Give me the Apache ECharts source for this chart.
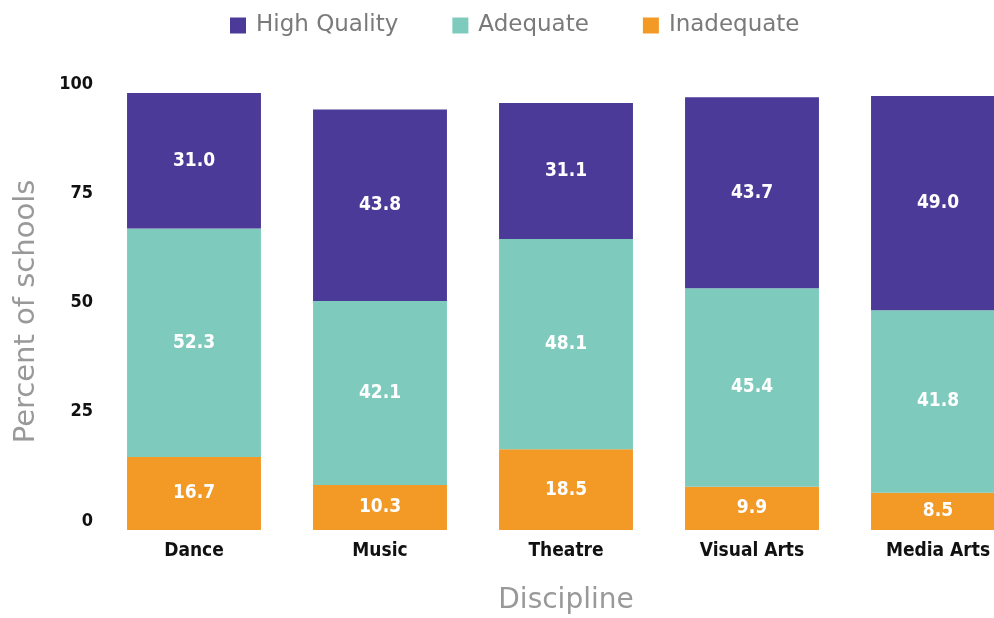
<!DOCTYPE html>
<html>
<head>
<meta charset="utf-8">
<script src="https://cdn.jsdelivr.net/npm/echarts@6/dist/echarts.min.js"></script>
<style>
html, body { margin: 0; padding: 0; background: #fff; overflow: hidden; }
#chart { width: 1040px; height: 618px; }
</style>
</head>
<body>
<div id="chart"></div>
<script>
var disciplines = ['Dance', 'Music', 'Theatre', 'Visual Arts', 'Media Arts'];
var inadequate = [16.7, 10.3, 18.5, 9.9, 8.5];
var adequate = [52.3, 42.1, 48.1, 45.4, 41.8];
var highQuality = [31.0, 43.8, 31.1, 43.7, 49.0];
var yTicks = [0, 25, 50, 75, 100];

// the reference uses a narrow bold face; ask the canvas for a condensed stretch
var narrowFamily = '"DejaVu Sans"';
var narrowWeight = 'condensed bold';
var plainFamily = '"DejaVu Sans", sans-serif';

function barSeries(name, values, color) {
    return {
        name: name,
        type: 'bar',
        stack: 'total',
        barWidth: '72%',
        data: values,
        itemStyle: { color: color },
        label: {
            show: true,
            position: 'inside',
            color: '#fff',
            fontFamily: narrowFamily,
            fontWeight: narrowWeight,
            fontSize: 19,
            formatter: function (p) { return p.value.toFixed(1); }
        }
    };
}

var chart = echarts.init(document.getElementById('chart'));
chart.setOption({
    animation: false,
    legend: {
        top: 9,
        left: 225,
        itemWidth: 16,
        itemHeight: 16,
        itemGap: 54,
        icon: 'rect',
        data: ['High Quality', 'Adequate', 'Inadequate'],
        textStyle: { color: '#7a7a7a', fontSize: 23, fontFamily: plainFamily, padding: [0, 0, 0, 5] }
    },
    grid: { left: 101, right: 9, top: 93, bottom: 88, outerBoundsMode: 'none', containLabel: false },
    xAxis: {
        type: 'category',
        data: disciplines,
        name: 'Discipline',
        nameLocation: 'middle',
        nameGap: 57,
        nameTextStyle: { color: '#999', fontSize: 28, fontFamily: plainFamily },
        axisLine: { show: false },
        axisTick: { show: false },
        axisLabel: {
            color: '#111',
            fontFamily: narrowFamily,
            fontWeight: narrowWeight,
            fontSize: 19,
            margin: 12
        }
    },
    yAxis: {
        type: 'value',
        min: yTicks[0],
        max: yTicks[yTicks.length - 1],
        interval: 25,
        name: 'Percent of schools',
        nameLocation: 'middle',
        nameGap: 60,
        nameTextStyle: { color: '#999', fontSize: 29, fontFamily: plainFamily },
        axisLine: { show: false },
        axisTick: { show: false },
        splitLine: { show: false },
        axisLabel: {
            color: '#111',
            fontFamily: narrowFamily,
            fontWeight: narrowWeight,
            fontSize: 18,
            margin: 8,
            verticalAlign: 'bottom'
        }
    },
    series: [
        barSeries('Inadequate', inadequate, '#f39a26'),
        barSeries('Adequate', adequate, '#7ecbbd'),
        barSeries('High Quality', highQuality, '#4b3a97')
    ]
});
</script>
</body>
</html>
